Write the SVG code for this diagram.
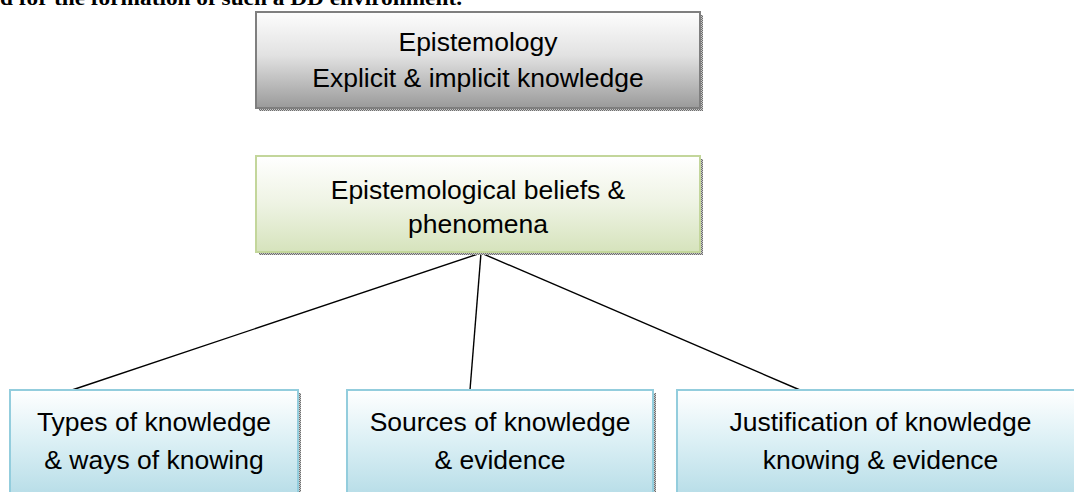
<svg xmlns="http://www.w3.org/2000/svg" width="1074" height="492" viewBox="0 0 1074 492">
  <defs>
    <linearGradient id="gGray" x1="0" y1="0" x2="0" y2="1">
      <stop offset="0" stop-color="#fdfdfd"/>
      <stop offset="0.45" stop-color="#e2e2e2"/>
      <stop offset="1" stop-color="#9a9a9a"/>
    </linearGradient>
    <linearGradient id="gGreen" x1="0" y1="0" x2="0" y2="1">
      <stop offset="0" stop-color="#ffffff"/>
      <stop offset="0.5" stop-color="#eef3e3"/>
      <stop offset="1" stop-color="#d6e3bc"/>
    </linearGradient>
    <linearGradient id="gBlue" x1="0" y1="0" x2="0" y2="1">
      <stop offset="0" stop-color="#ffffff"/>
      <stop offset="0.45" stop-color="#dcf0f5"/>
      <stop offset="1" stop-color="#b3dbe6"/>
    </linearGradient>
    <pattern id="dots" width="2" height="2" patternUnits="userSpaceOnUse">
      <rect width="2" height="2" fill="#c8c8c8"/>
      <rect width="1" height="1" fill="#6e6e6e"/>
      <rect x="1" y="1" width="1" height="1" fill="#6e6e6e"/>
    </pattern>
  </defs>
  <style>
    .t { font-family: "Liberation Sans", Arial, sans-serif; font-size: 26.5px; fill: #000; text-anchor: middle; }
    .hdr { font-family: "Liberation Serif", "Times New Roman", serif; font-size: 20px; font-weight: bold; fill: #000; }
    .shadow { fill: url(#dots); }
    .gray { fill: url(#gGray); stroke: #7f7f7f; stroke-width: 2; }
    .green { fill: url(#gGreen); stroke: #c3d69b; stroke-width: 2; }
    .blue { fill: url(#gBlue); stroke: #93cddd; stroke-width: 2; }
    .conn { stroke: #000; stroke-width: 1.4; fill: none; }
  </style>

  <text class="hdr" x="0" y="5" textLength="462" lengthAdjust="spacingAndGlyphs">d for the formation of such a DD environment.</text>

  <g id="connectors">
    <line class="conn" x1="481" y1="253" x2="72" y2="390"/>
    <line class="conn" x1="481" y1="253" x2="470" y2="390"/>
    <line class="conn" x1="481" y1="253" x2="800" y2="390"/>
  </g>

  <g id="node-epistemology">
    <rect class="shadow" x="259" y="15" width="444" height="96"/>
    <rect class="gray" x="256" y="12" width="444" height="96"/>
    <text class="t" x="478" y="51">Epistemology</text>
    <text class="t" x="478" y="87">Explicit &amp; implicit knowledge</text>
  </g>

  <g id="node-beliefs">
    <rect class="shadow" x="259" y="159" width="444" height="96"/>
    <rect class="green" x="256" y="156" width="444" height="96"/>
    <text class="t" x="478" y="199">Epistemological beliefs &amp;</text>
    <text class="t" x="478" y="233">phenomena</text>
  </g>

  <g id="node-types">
    <rect class="shadow" x="13" y="393" width="288" height="112"/>
    <rect class="blue" x="10" y="390" width="288" height="112"/>
    <text class="t" x="154" y="431">Types of knowledge</text>
    <text class="t" x="154" y="469">&amp; ways of knowing</text>
  </g>

  <g id="node-sources">
    <rect class="shadow" x="350" y="393" width="306" height="112"/>
    <rect class="blue" x="347" y="390" width="306" height="112"/>
    <text class="t" x="500" y="431">Sources of knowledge</text>
    <text class="t" x="500" y="469">&amp; evidence</text>
  </g>

  <g id="node-justification">
    <rect class="shadow" x="680" y="393" width="407" height="112"/>
    <rect class="blue" x="677" y="390" width="407" height="112"/>
    <text class="t" x="880.5" y="431">Justification of knowledge</text>
    <text class="t" x="880.5" y="469">knowing &amp; evidence</text>
  </g>
</svg>
